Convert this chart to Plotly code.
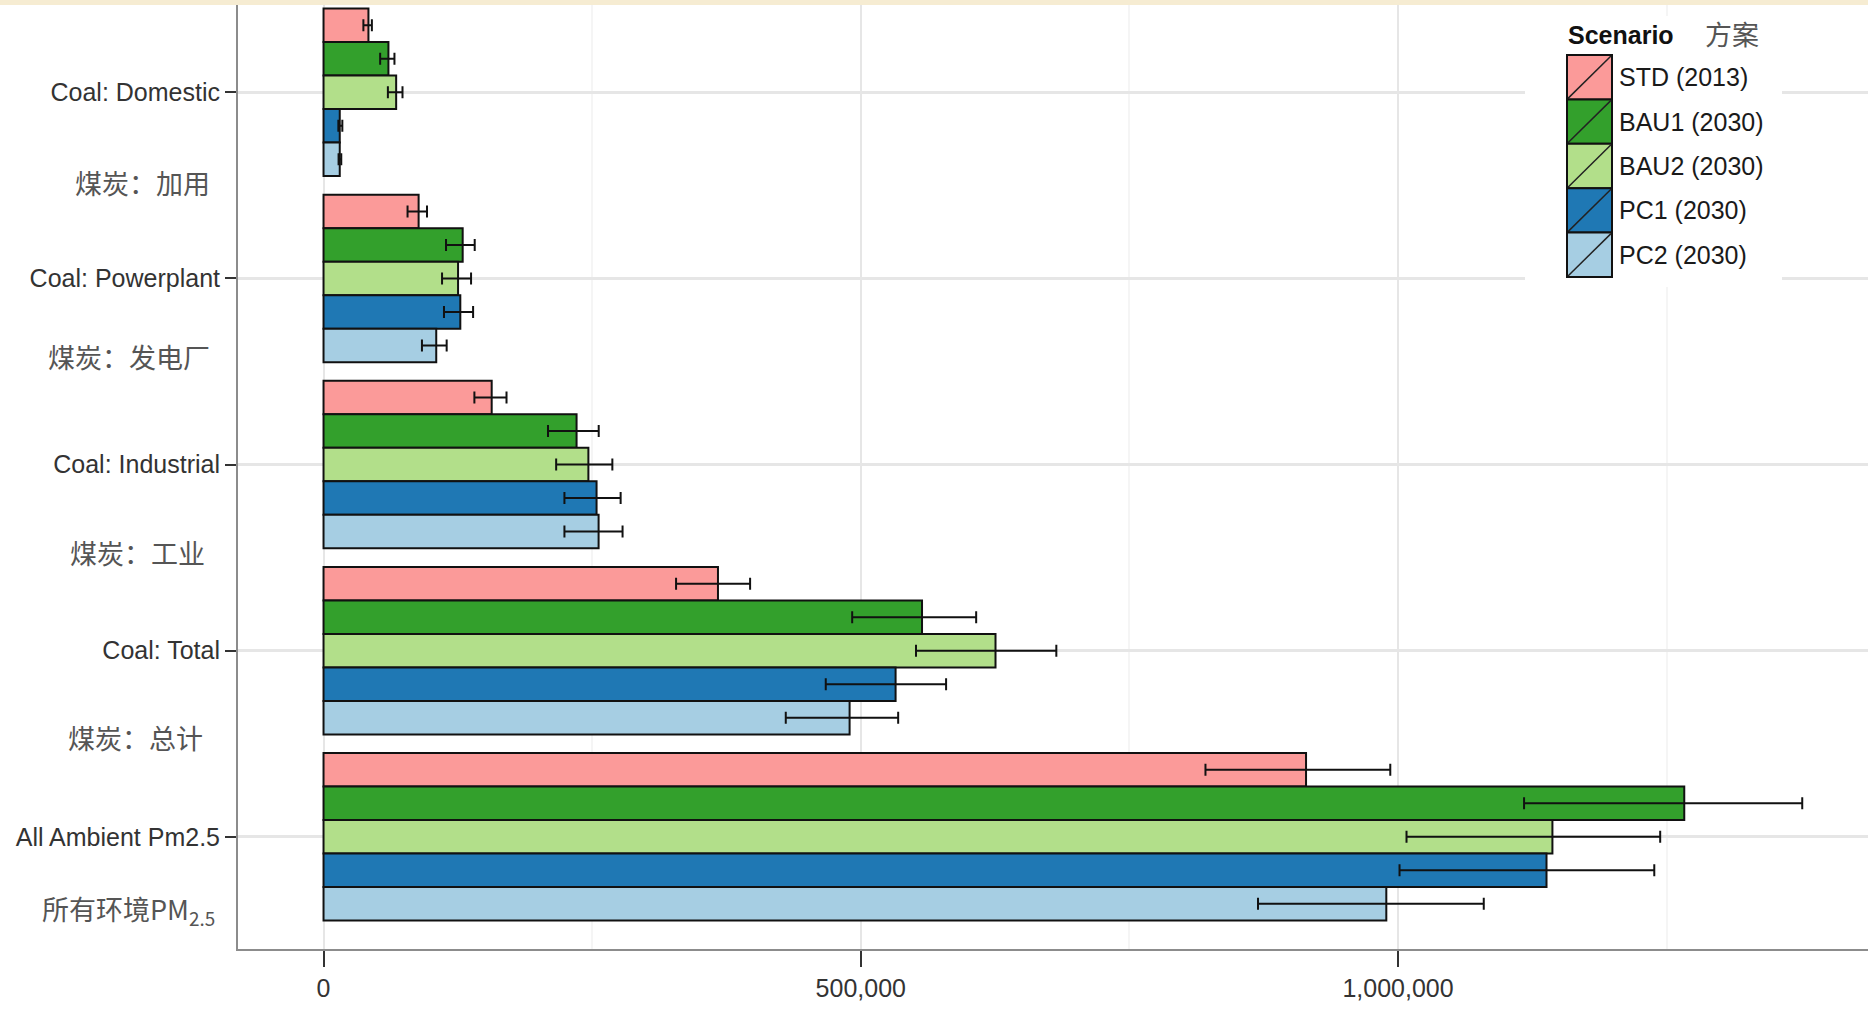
import plotly.graph_objects as go

# Categories (top to bottom) and their Chinese captions
categories = ["Coal: Domestic", "Coal: Powerplant", "Coal: Industrial", "Coal: Total", "All Ambient Pm2.5"]
captions_cn = ["煤炭：加用", "煤炭：发电厂", "煤炭：工业", "煤炭：总计", "所有环境PM<sub>2.5</sub>"]

scenarios = ["STD (2013)", "BAU1 (2030)", "BAU2 (2030)", "PC1 (2030)", "PC2 (2030)"]
colors = ["#FB9A99", "#33A02C", "#B2DF8A", "#1F78B4", "#A6CEE3"]

# Attributable deaths per scenario, in category order, with lower / upper bounds
std_mid = [41800, 88500, 156500, 367100, 914400]
std_lo = [37100, 78200, 140400, 328100, 820800]
std_hi = [45000, 96300, 170300, 397000, 992800]

bau1_mid = [60400, 129500, 235500, 557000, 1266400]
bau1_lo = [52700, 114000, 208900, 492000, 1117300]
bau1_hi = [66000, 140700, 256100, 607400, 1376200]

bau2_mid = [67600, 125200, 246500, 625400, 1143700]
bau2_lo = [59900, 110300, 216500, 551400, 1007900]
bau2_hi = [73500, 137300, 268800, 682000, 1244000]

pc1_mid = [15100, 127300, 254100, 532400, 1138200]
pc1_lo = [13800, 112100, 224200, 467400, 1001400]
pc1_hi = [17500, 139200, 276500, 579400, 1238500]

pc2_mid = [15100, 104900, 256000, 489600, 989100]
pc2_lo = [14000, 91600, 224200, 430200, 869700]
pc2_hi = [16500, 114600, 278300, 534800, 1079800]

series = [
    (std_mid, std_lo, std_hi),
    (bau1_mid, bau1_lo, bau1_hi),
    (bau2_mid, bau2_lo, bau2_hi),
    (pc1_mid, pc1_lo, pc1_hi),
    (pc2_mid, pc2_lo, pc2_hi),
]

x_tickvals = [0, 500000, 1000000]
x_ticktext = ["0", "500,000", "1,000,000"]
x_minor = [250000, 750000, 1250000]

SANS = "Liberation Sans, Arial, sans-serif"
CJK = "Noto Sans CJK SC, sans-serif"

W, H = 1868, 1013
ML, MR, MT, MB = 238, 0, 5, 64
PW, PH = W - ML - MR, H - MT - MB


def px_x(px):
    return (px - ML) / PW


def px_y(py):
    return (H - MB - py) / PH


fig = go.Figure()
for name, color, (mid, lo, hi) in zip(scenarios, colors, series):
    fig.add_trace(go.Bar(
        y=categories,
        x=mid,
        orientation="h",
        name=name,
        marker=dict(color=color, line=dict(color="#111111", width=2)),
        error_x=dict(
            type="data",
            symmetric=False,
            array=[h - m for h, m in zip(hi, mid)],
            arrayminus=[m - l for m, l in zip(mid, lo)],
            color="#111111",
            thickness=2,
            width=6,
        ),
        showlegend=False,
    ))

# Chinese captions beneath each English category label
caption_y = [0.482, 1.417, 2.47, 3.467, 4.394]
caption_right = [212, 212, 207, 205, 217]
annotations = []
for text, yv, xr in zip(captions_cn, caption_y, caption_right):
    annotations.append(dict(
        x=px_x(xr), xref="paper", y=yv, yref="y",
        text=text, showarrow=False, xanchor="right", yanchor="middle",
        font=dict(family=CJK, size=27, color="#555555"),
    ))

# Legend block drawn in the top-right corner
shapes = [
    # thin beige strip along the top edge
    dict(type="rect", xref="paper", yref="paper", x0=px_x(0), x1=1.0,
         y0=1.0, y1=px_y(0), fillcolor="#F6ECD2", line=dict(width=0), layer="above"),
    # legend background
    dict(type="rect", xref="paper", yref="paper", x0=px_x(1525), x1=px_x(1782),
         y0=px_y(287), y1=px_y(16), fillcolor="white", line=dict(width=0), layer="above"),
]
sw_x0, sw_x1, sw_top, sw_h = 1567, 1612, 55, 44.4
for i, (name, color) in enumerate(zip(scenarios, colors)):
    t = sw_top + i * sw_h
    b = t + sw_h
    shapes.append(dict(type="rect", xref="paper", yref="paper",
                       x0=px_x(sw_x0), x1=px_x(sw_x1), y0=px_y(b), y1=px_y(t),
                       fillcolor=color, line=dict(color="#111111", width=2), layer="above"))
    shapes.append(dict(type="line", xref="paper", yref="paper",
                       x0=px_x(sw_x0 + 1), x1=px_x(sw_x1 - 1), y0=px_y(b - 1), y1=px_y(t + 1),
                       line=dict(color="#222222", width=1.5), layer="above"))
    annotations.append(dict(
        x=px_x(1617), xref="paper", y=px_y((t + b) / 2), yref="paper",
        text=name, showarrow=False, xanchor="left", yanchor="middle",
        font=dict(family=SANS, size=25, color="#1a1a1a"),
    ))

annotations.append(dict(
    x=px_x(1566), xref="paper", y=px_y(35), yref="paper",
    text="<b>Scenario</b>", showarrow=False, xanchor="left", yanchor="middle",
    font=dict(family=SANS, size=25, color="#111111"),
))
annotations.append(dict(
    x=px_x(1703), xref="paper", y=px_y(33), yref="paper",
    text="方案", showarrow=False, xanchor="left", yanchor="middle",
    font=dict(family=CJK, size=27, color="#555555"),
))

fig.update_layout(
    width=W, height=H,
    margin=dict(l=ML, r=MR, t=MT, b=MB, pad=0, autoexpand=False),
    paper_bgcolor="white",
    plot_bgcolor="white",
    barmode="group",
    bargap=0.1,
    bargroupgap=0,
    showlegend=False,
    shapes=shapes,
    annotations=annotations,
    xaxis=dict(
        range=[-79600, 1437400],
        tickvals=x_tickvals,
        ticktext=x_ticktext,
        ticks="outside", ticklen=16, tickwidth=2, tickcolor="#333333",
        tickfont=dict(family=SANS, size=25, color="#333333"),
        showgrid=True, gridcolor="#E6E6E6", gridwidth=2,
        zeroline=False,
        showline=True, linecolor="#8C8C8C", linewidth=2,
        automargin=False,
        minor=dict(tickvals=x_minor, showgrid=True, gridcolor="#F5F5F5", gridwidth=1.5, ticks=""),
    ),
    yaxis=dict(
        type="category",
        categoryorder="array", categoryarray=categories,
        range=[4.603, -0.469],
        ticks="outside", ticklen=11, tickwidth=2, tickcolor="#333333",
        tickfont=dict(family=SANS, size=25, color="#333333"),
        showgrid=True, gridcolor="#E6E6E6", gridwidth=2.5,
        zeroline=False,
        showline=True, linecolor="#8C8C8C", linewidth=2,
        automargin=False,
    ),
)

fig.write_html("out.html")
